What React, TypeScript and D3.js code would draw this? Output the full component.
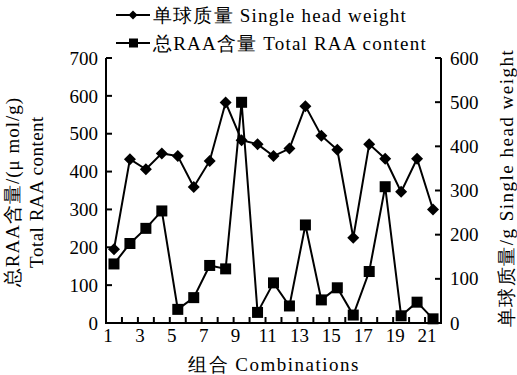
// App.tsx
import React from 'react';
import * as d3 from 'd3';

const combinations = d3.range(1, 22);
const xTickLabels = [1, 3, 5, 7, 9, 11, 13, 15, 17, 19, 21];

// 单球质量 Single head weight (g), right axis
const headWeight = [
  167, 371, 348, 384, 378, 308, 367, 499, 414, 405, 378, 395, 491, 424, 392,
  193, 405, 372, 297, 372, 257,
];

// 总RAA含量 Total RAA content (μmol/g), left axis
const raaContent = [
  156, 210, 250, 296, 36, 67, 152, 143, 583, 28, 106, 45, 259, 61, 93, 21, 136,
  360, 19, 55, 11,
];

const leftTicks = [0, 100, 200, 300, 400, 500, 600, 700];
const rightTicks = [0, 100, 200, 300, 400, 500, 600];

const width = 517;
const height = 375;
const margin = { top: 58, right: 76, bottom: 52, left: 106 };
const plotRight = width - margin.right;
const plotBottom = height - margin.bottom;

const textStyle = { fontFamily: 'Liberation Serif', fontSize: 19 };

const diamond = (s: number) => `M0,${-s}L${s},0L0,${s}L${-s},0Z`;

const App = () => {
  const x = d3
    .scaleBand<number>()
    .domain(combinations)
    .range([margin.left, plotRight])
    .padding(0);
  const yLeft = d3.scaleLinear().domain([0, 700]).range([plotBottom, margin.top]);
  const yRight = d3.scaleLinear().domain([0, 600]).range([plotBottom, margin.top]);

  const cx = (i: number) => x(combinations[i])! + x.bandwidth() / 2;

  const weightPath = d3
    .line<number>()
    .x((_, i) => cx(i))
    .y((d) => yRight(d))(headWeight);
  const raaPath = d3
    .line<number>()
    .x((_, i) => cx(i))
    .y((d) => yLeft(d))(raaContent);

  const legendRows = [
    { label: '单球质量 Single head weight', shape: 'diamond' },
    { label: '总RAA含量 Total RAA content', shape: 'square' },
  ];

  return (
    <div style={{ position: 'absolute', left: 0, top: 0, width, height, background: '#fff' }}>
      <svg width={width} height={height} style={{ display: 'block' }}>
        {/* axes */}
        <g stroke="#000" strokeWidth={2} fill="none">
          <path d={`M${margin.left},${margin.top}V${plotBottom}H${plotRight}V${margin.top}`} />
          {leftTicks.map((d) => (
            <line key={'l' + d} x1={margin.left} x2={margin.left + 6} y1={yLeft(d)} y2={yLeft(d)} />
          ))}
          {rightTicks.map((d) => (
            <line key={'r' + d} x1={plotRight} x2={plotRight - 6} y1={yRight(d)} y2={yRight(d)} />
          ))}
          {combinations.map((d) => (
            <line key={'b' + d} x1={x(d)} x2={x(d)} y1={plotBottom} y2={plotBottom - 6} />
          ))}
        </g>

        {/* tick labels */}
        <g style={textStyle}>
          {leftTicks.map((d) => (
            <text key={'lt' + d} x={margin.left - 8} y={yLeft(d)} dy="0.35em" textAnchor="end">
              {d}
            </text>
          ))}
          {rightTicks.map((d) => (
            <text key={'rt' + d} x={plotRight + 9} y={yRight(d)} dy="0.35em" textAnchor="start">
              {d}
            </text>
          ))}
          {xTickLabels.map((d) => (
            <text key={'bt' + d} x={x(d)! + 2} y={plotBottom + 19} textAnchor="middle">
              {d}
            </text>
          ))}

          {/* axis titles */}
          <text x={274} y={371} textAnchor="middle" style={{ letterSpacing: 1.5 }}>
            组合 Combinations
          </text>
          <text
            transform="translate(19,192) rotate(-90)"
            textAnchor="middle"
            style={{ letterSpacing: 1 }}
          >
            总RAA含量/(μ mol/g)
          </text>
          <text
            transform="translate(43,192) rotate(-90)"
            textAnchor="middle"
            style={{ letterSpacing: 0.5 }}
          >
            Total RAA content
          </text>
          <text
            transform="translate(513,188) rotate(-90)"
            textAnchor="middle"
            style={{ letterSpacing: 1.5 }}
          >
            单球质量/g  Single head weight
          </text>
        </g>

        {/* series */}
        <path d={weightPath!} fill="none" stroke="#000" strokeWidth={2} />
        <path d={raaPath!} fill="none" stroke="#000" strokeWidth={2} />
        {headWeight.map((d, i) => (
          <path key={'dm' + i} d={diamond(6)} transform={`translate(${cx(i)},${yRight(d)})`} fill="#000" />
        ))}
        {raaContent.map((d, i) => (
          <rect key={'sq' + i} x={cx(i) - 5.5} y={yLeft(d) - 5.5} width={11} height={11} fill="#000" />
        ))}

        {/* legend */}
        {legendRows.map((r, i) => {
          const ly = 15 + i * 28;
          return (
            <g key={r.label}>
              <line x1={116} x2={150} y1={ly} y2={ly} stroke="#000" strokeWidth={2} />
              {r.shape === 'diamond' ? (
                <path d={diamond(4.5)} transform={`translate(133,${ly})`} fill="#000" />
              ) : (
                <rect x={129} y={ly - 4.5} width={9} height={9} fill="#000" />
              )}
              <text x={153} y={ly} dy="0.35em" style={{ ...textStyle, letterSpacing: 1.2 }}>
                {r.label}
              </text>
            </g>
          );
        })}
      </svg>
    </div>
  );
};

export default App;
